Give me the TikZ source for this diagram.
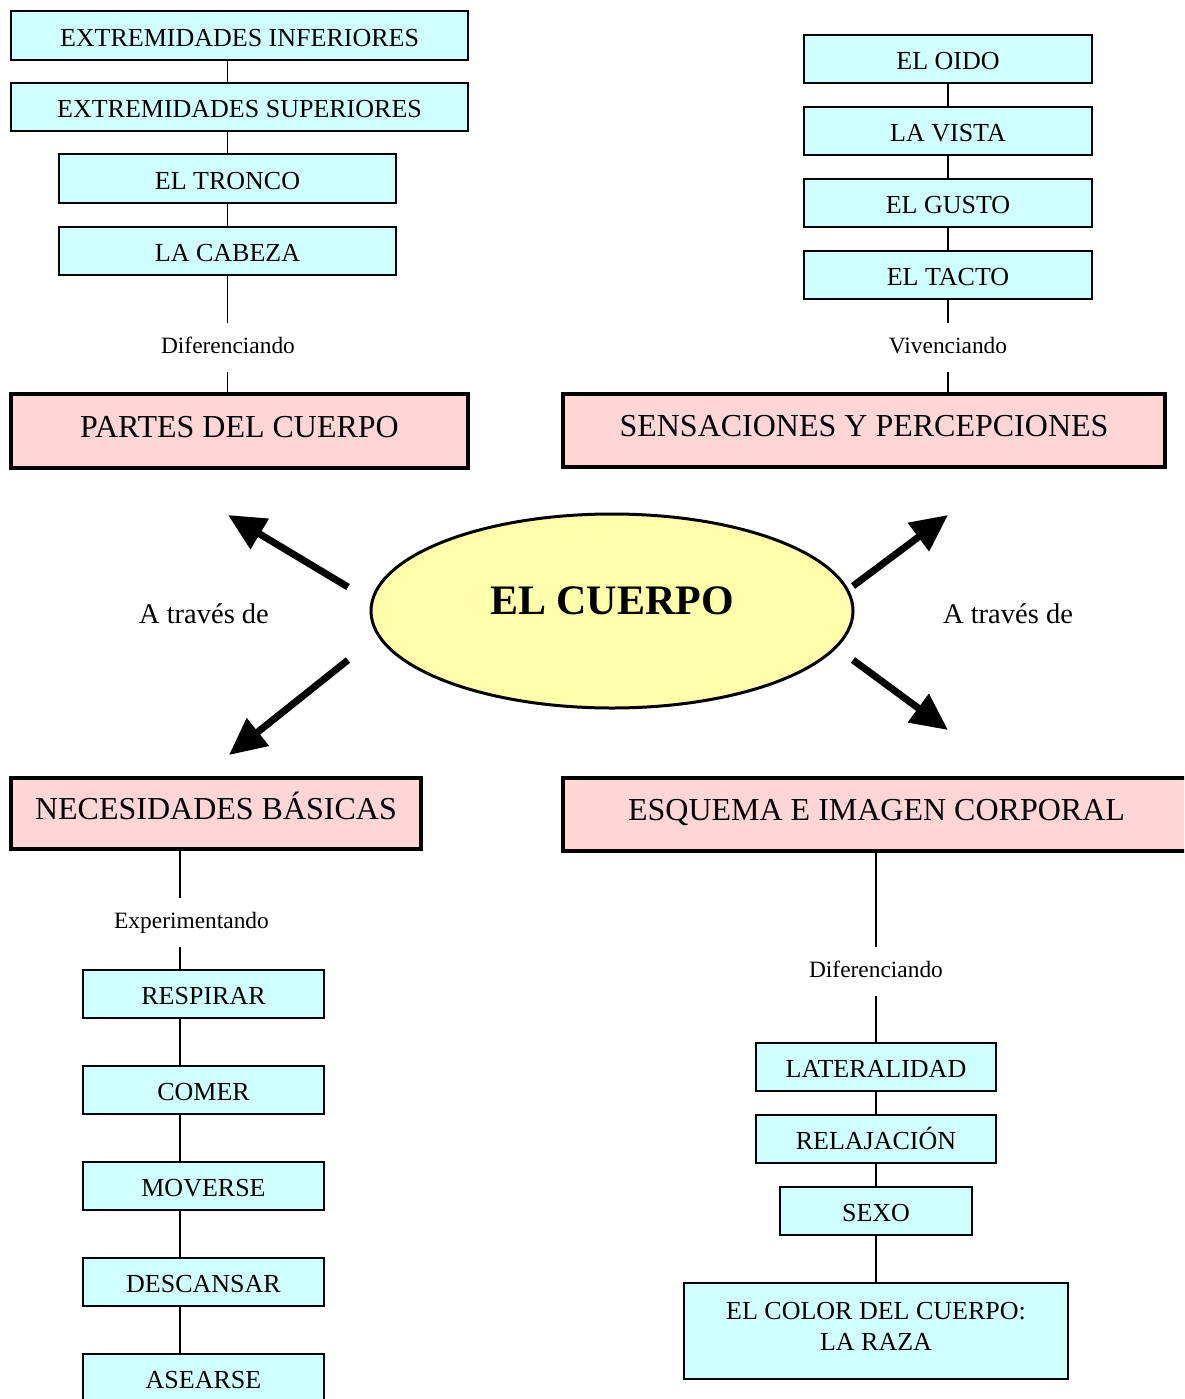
\documentclass[tikz,border=0pt]{standalone}
\usepackage{fontspec}
\setmainfont{Liberation Serif}
\usetikzlibrary{arrows.meta,shapes.geometric}
\definecolor{cyanfill}{RGB}{208,255,255}
\definecolor{pinkfill}{RGB}{255,214,214}
\definecolor{yellowfill}{RGB}{255,255,170}
\begin{document}
\begin{tikzpicture}[x=1pt,y=-1pt,
  cyanbox/.style={draw=black, line width=2pt, fill=cyanfill, inner sep=0pt,
    font=\fontsize{26}{31}\selectfont, text height=26pt, text depth=4.8pt},
  pinkbox/.style={draw=black, line width=3.5pt, fill=pinkfill, inner sep=0pt,
    font=\fontsize{32}{38}\selectfont, text height=18.6pt, text depth=6.4pt},
  linklabel/.style={inner sep=0pt, minimum height=49pt, font=\fontsize{23.4}{28}\selectfont,
    text height=17.5pt, text depth=4.6pt},
  conn/.style={line width=1.8pt},
  bigarrow/.style={line width=7pt, -{Triangle[length=37pt,width=34pt]}},
  via/.style={inner sep=0pt, font=\fontsize{28.5}{34}\selectfont},
]
\useasboundingbox (0,0) rectangle (1184,1399);
\clip (0,0) rectangle (1184,1399);
\fill[white] (0,0) rectangle (1184,1399);

% ---------- top left ----------
\node[cyanbox, minimum width=457pt, minimum height=49pt] (ei) at (239.5,35.5) {EXTREMIDADES INFERIORES};
\node[cyanbox, minimum width=457pt, minimum height=48pt] (es) at (239.5,107) {EXTREMIDADES SUPERIORES};
\node[cyanbox, minimum width=337pt, minimum height=49pt] (tr) at (227.5,178.5) {EL TRONCO};
\node[cyanbox, minimum width=337pt, minimum height=48pt] (cab) at (227.5,251) {LA CABEZA};
\node[linklabel] (difA) at (228,347.5) {Diferenciando};
\node[pinkbox, minimum width=457pt, minimum height=74pt] (partes) at (239.5,431) {PARTES DEL CUERPO};
\draw[conn] (ei.south -| cab.south) -- (es.north -| cab.south);
\draw[conn] (es.south -| cab.south) -- (tr.north);
\draw[conn] (tr.south) -- (cab.north);
\draw[conn] (cab.south) -- (difA.north -| cab.south);
\draw[conn] (difA.south -| cab.south) -- (partes.north -| cab.south);

% ---------- top right ----------
\node[cyanbox, minimum width=288pt, minimum height=48pt] (oido) at (948,59) {EL OIDO};
\node[cyanbox, minimum width=288pt, minimum height=48pt] (vista) at (948,131) {LA VISTA};
\node[cyanbox, minimum width=288pt, minimum height=48pt] (gusto) at (948,203) {EL GUSTO};
\node[cyanbox, minimum width=288pt, minimum height=48pt] (tacto) at (948,275) {EL TACTO};
\node[linklabel] (viv) at (948,347.5) {Vivenciando};
\node[pinkbox, minimum width=602pt, minimum height=73pt] (sens) at (864,430.5) {SENSACIONES Y PERCEPCIONES};
\draw[conn] (oido.south) -- (vista.north);
\draw[conn] (vista.south) -- (gusto.north);
\draw[conn] (gusto.south) -- (tacto.north);
\draw[conn] (tacto.south) -- (viv.north);
\draw[conn] (viv.south) -- (viv.south |- sens.north);

% ---------- centre ----------
\node[ellipse, draw=black, line width=3pt, fill=yellowfill, inner sep=0pt,
      minimum width=482pt, minimum height=194pt] (cuerpo) at (612,611) {};
\node[inner sep=0pt, font=\fontsize{42}{50}\selectfont\bfseries] (cuerpotxt) at (612,601) {EL CUERPO};
\node[via] (viaL) at (204,614) {A través de};
\node[via] (viaR) at (1008,614) {A través de};

\coordinate (ulS) at (348,587);  \coordinate (ulT) at (228,515);
\coordinate (llS) at (348,660);  \coordinate (llT) at (229,755);
\coordinate (urS) at (853,586);  \coordinate (urT) at (948,515);
\coordinate (lrS) at (853,660);  \coordinate (lrT) at (948,730);
\draw[bigarrow] (ulS) -- (ulT);
\draw[bigarrow] (llS) -- (llT);
\draw[bigarrow] (urS) -- (urT);
\draw[bigarrow] (lrS) -- (lrT);

% ---------- bottom left ----------
\coordinate (bx) at (180,0);
\node[pinkbox, minimum width=410pt, minimum height=71pt] (nec) at (216,813.5) {NECESIDADES BÁSICAS};
\node[linklabel] (expe) at (191.5,922.5) {Experimentando};
\node[cyanbox, minimum width=241pt, minimum height=48pt] (resp) at (203.5,994) {RESPIRAR};
\node[cyanbox, minimum width=241pt, minimum height=48pt] (comer) at (203.5,1090) {COMER};
\node[cyanbox, minimum width=241pt, minimum height=48pt] (mov) at (203.5,1186) {MOVERSE};
\node[cyanbox, minimum width=241pt, minimum height=48pt] (desc) at (203.5,1282) {DESCANSAR};
\node[cyanbox, minimum width=241pt, minimum height=48pt] (ase) at (203.5,1378) {ASEARSE};
\draw[conn] (nec.south -| bx) -- (expe.north -| bx);
\draw[conn] (expe.south -| bx) -- (resp.north -| bx);
\draw[conn] (resp.south -| bx) -- (comer.north -| bx);
\draw[conn] (comer.south -| bx) -- (mov.north -| bx);
\draw[conn] (mov.south -| bx) -- (desc.north -| bx);
\draw[conn] (desc.south -| bx) -- (ase.north -| bx);

% ---------- bottom right ----------
\node[pinkbox, minimum width=627pt, minimum height=73pt] (esq) at (876.5,814.5) {ESQUEMA E IMAGEN CORPORAL};
\node[linklabel] (difB) at (876,971.5) {Diferenciando};
\node[cyanbox, minimum width=240pt, minimum height=48pt] (lat) at (876,1067) {LATERALIDAD};
\node[cyanbox, minimum width=240pt, minimum height=48pt] (rel) at (876,1139) {RELAJACIÓN};
\node[cyanbox, minimum width=192pt, minimum height=48pt] (sexo) at (876,1211) {SEXO};
\node[cyanbox, minimum width=384pt, minimum height=96pt] (color) at (876,1331) {};
\node[inner sep=0pt, align=center, font=\fontsize{26}{31}\selectfont] (colortxt) at (876,1326) {EL COLOR DEL CUERPO:\\LA RAZA};
\draw[conn] (esq.south -| difB.north) -- (difB.north);
\draw[conn] (difB.south) -- (lat.north);
\draw[conn] (lat.south) -- (rel.north);
\draw[conn] (rel.south) -- (sexo.north);
\draw[conn] (sexo.south) -- (color.north);
\end{tikzpicture}
\end{document}
